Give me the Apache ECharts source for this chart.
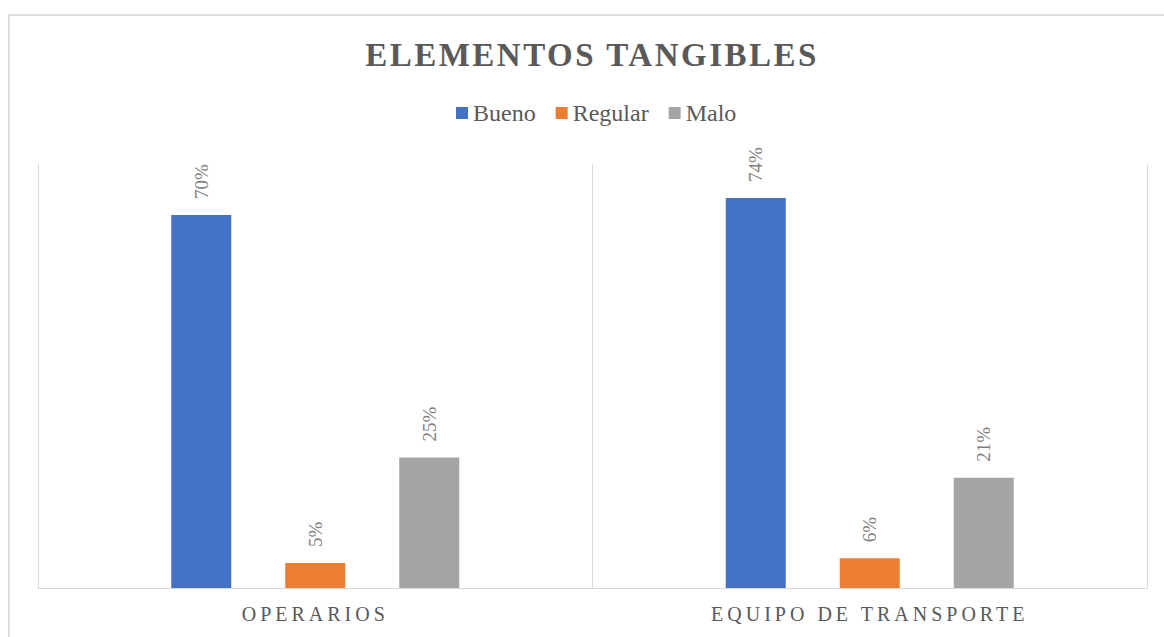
<!DOCTYPE html>
<html>
<head>
<meta charset="utf-8">
<script src="https://cdn.jsdelivr.net/npm/echarts@6/dist/echarts.min.js"></script>
<style>
html,body{margin:0;padding:0;background:#fff;}
#frame{position:absolute;left:8px;top:14px;width:1200px;height:700px;border:2px solid #dcdcdc;}
#chart{position:absolute;left:0;top:0;width:1164px;height:637px;}
</style>
</head>
<body>
<div id="frame"></div>
<div id="chart"></div>
<script>
const titleText = 'ELEMENTOS TANGIBLES';
const categories = ['OPERARIOS', 'EQUIPO DE TRANSPORTE'];
const seriesNames = ['Bueno', 'Regular', 'Malo'];
const bueno = [0.704, 0.736];
const regular = [0.047, 0.056];
const malo = [0.246, 0.208];
const colors = ['#4472C4', '#ED7D31', '#A5A5A5'];

const font = 'Liberation Serif';
const chart = echarts.init(document.getElementById('chart'), null, {renderer: 'svg'});
const label = {
  show: true, position: 'top', rotate: 90, align: 'left', verticalAlign: 'middle',
  distance: 16, fontFamily: font, fontSize: 19, color: '#7f7f7f',
  formatter: p => Math.round(p.value * 100) + '%'
};
const values = [bueno, regular, malo];
chart.setOption({
  animation: false,
  backgroundColor: 'transparent',
  title: {
    text: titleText, left: 592, top: 38, textAlign: 'center', padding: 0,
    textStyle: {fontFamily: font, fontSize: 33, fontWeight: 'bold', color: '#595959'}
  },
  legend: {
    data: seriesNames, top: 101, left: 456, padding: 0, itemWidth: 12, itemHeight: 12, itemGap: 20,
    icon: 'rect',
    textStyle: {fontFamily: font, fontSize: 24, color: '#595959'}
  },
  grid: {left: 38, right: 17, top: 164, bottom: 49, containLabel: false},
  xAxis: {
    type: 'category', data: categories,
    axisLine: {lineStyle: {color: '#d9d9d9', width: 1}},
    axisTick: {show: false},
    splitLine: {show: true, lineStyle: {color: '#d9d9d9', width: 1}},
    axisLabel: {fontFamily: font, fontSize: 20, color: '#595959', margin: 16}
  },
  yAxis: {type: 'value', min: 0, max: 0.8, show: false, splitLine: {show: false}},
  series: seriesNames.map((n, i) => ({
    name: n, type: 'bar', data: values[i], barWidth: 60, barGap: '90%',
    itemStyle: {color: colors[i]}, label: label
  }))
});
function applySpacing(){
  const spaced = new Map([[titleText, '2.5px']]);
  categories.forEach(c => spaced.set(c, '4px'));
  document.querySelectorAll('#chart text').forEach(t => {
    const s = spaced.get(t.textContent.trim());
    if (s) t.style.letterSpacing = s;
  });
}
applySpacing();
chart.on('finished', applySpacing);
setTimeout(applySpacing, 50);
</script>
</body>
</html>
